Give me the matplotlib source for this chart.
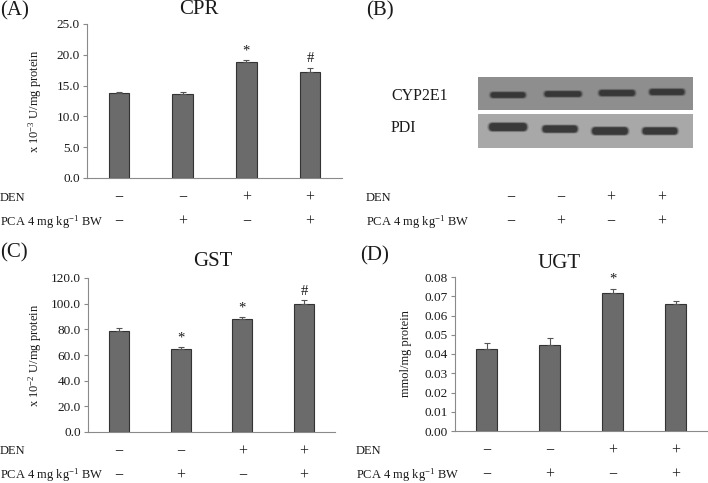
import matplotlib
matplotlib.use("Agg")
import matplotlib.pyplot as plt
from matplotlib.patches import Rectangle, FancyBboxPatch
import numpy as np

plt.rcParams['font.family'] = ['Liberation Serif', 'DejaVu Serif']
plt.rcParams['mathtext.fontset'] = 'custom'
plt.rcParams['mathtext.rm'] = 'Liberation Serif'
plt.rcParams['mathtext.default'] = 'regular'

W, H = 708, 483

# treatment rows (same for every panel)
den_signs = ['\u2212', '\u2212', '+', '+']
pca_signs = ['\u2212', '+', '\u2212', '+']
row_labels = ['DEN', 'PCA 4 mg kg$^{-1}$ BW']

# (A) CPR
cpr_mean = [13.8, 13.6, 18.8, 17.2]
cpr_err = [0.15, 0.4, 0.3, 0.7]
cpr_marks = ['', '', '*', '#']
cpr_ticks = [0.0, 5.0, 10.0, 15.0, 20.0, 25.0]

# (C) GST
gst_mean = [78.5, 64.5, 88.0, 100.0]
gst_err = [2.5, 1.5, 1.5, 2.5]
gst_marks = ['', '*', '*', '#']
gst_ticks = [0.0, 20.0, 40.0, 60.0, 80.0, 100.0, 120.0]

# (D) UGT
ugt_mean = [0.0427, 0.0447, 0.0715, 0.0658]
ugt_err = [0.003, 0.0035, 0.0025, 0.0015]
ugt_marks = ['', '', '*', '']
ugt_ticks = [0.00, 0.01, 0.02, 0.03, 0.04, 0.05, 0.06, 0.07, 0.08]

# (B) western blot rows
blot_lanes = ['CYP2E1', 'PDI']

BAR_FC = '#6b6b6b'
BAR_EC = '#333333'
AX_C = '#8a8a8a'
TXT_C = '#1a1a1a'
SIGN_FS = 11.5

fig = plt.figure(figsize=(W / 100, H / 100), dpi=100)


def px_axes(x0, y0, x1, y1):
    return fig.add_axes([x0 / W, 1 - y1 / H, (x1 - x0) / W, (y1 - y0) / H])


def bar_panel(box, mean, err, marks, ticks, fmt, ylabel, label_x):
    ax = px_axes(*box)
    x = np.arange(len(mean))
    ax.bar(x, mean, width=0.32, color=BAR_FC, edgecolor=BAR_EC, linewidth=0.8, zorder=2)
    ax.errorbar(x, mean, yerr=[np.zeros(len(err)), err], fmt='none',
                ecolor='#555555', elinewidth=0.8, capsize=2, capthick=0.8, zorder=3)
    for xi, m, e, s in zip(x, mean, err, marks):
        if s:
            ax.annotate(s, xy=(xi, m + e), xytext=(0, 2), textcoords='offset points',
                        ha='center', va='bottom', fontsize=10.5, color=TXT_C)
    ax.set_xlim(-0.5, len(mean) - 0.5)
    ax.set_ylim(ticks[0], ticks[-1])
    ax.set_yticks(ticks)
    ax.set_yticklabels([fmt.format(t) for t in ticks])
    ax.set_xticks([])
    for side in ['top', 'right']:
        ax.spines[side].set_visible(False)
    for side in ['left', 'bottom']:
        ax.spines[side].set_color(AX_C)
        ax.spines[side].set_linewidth(0.8)
    ax.tick_params(axis='y', direction='out', length=3, width=0.8, color=AX_C,
                   labelsize=9.5, labelcolor=TXT_C, pad=2)
    ax.set_ylabel(ylabel, fontsize=9, color=TXT_C)
    ax.yaxis.set_label_coords(label_x, 0.5)
    ax.patch.set_alpha(0)
    return ax


def sign_rows(ax, offsets=(-20, -44)):
    for signs, off in zip([den_signs, pca_signs], offsets):
        for i, s in enumerate(signs):
            ax.annotate(s, xy=(i, 0), xycoords=('data', 'axes fraction'),
                        xytext=(0, off * 0.72), textcoords='offset points',
                        ha='center', va='center', fontsize=SIGN_FS, color=TXT_C,
                        annotation_clip=False)


axA = bar_panel((87, 24, 342, 178), cpr_mean, cpr_err, cpr_marks, cpr_ticks, '{:.1f}',
                'x 10$^{-3}$ U/mg protein', -0.17)
axC = bar_panel((88, 278, 335, 432), gst_mean, gst_err, gst_marks, gst_ticks, '{:.1f}',
                'x 10$^{-2}$ U/mg protein', -0.18)
axD = bar_panel((455, 277, 707, 431), ugt_mean, ugt_err, ugt_marks, ugt_ticks, '{:.2f}',
                'mmol/mg protein', -0.17)
for ax in (axA, axC, axD):
    sign_rows(ax)

# overlay for free text, in pixel coordinates
ov = fig.add_axes([0, 0, 1, 1])
ov.set_xlim(0, W)
ov.set_ylim(H, 0)
ov.axis('off')
ov.patch.set_alpha(0)

for lab, x, y in [('(A)', 0, 11), ('(B)', 366, 11), ('(C)', 0, 253), ('(D)', 360, 256)]:
    ov.text(x, y, lab, fontsize=15, ha='left', va='center', color=TXT_C)
for t, x, y in [('CPR', 199, 9), ('GST', 213, 261), ('UGT', 559, 263)]:
    ov.text(x, y, t, fontsize=15, ha='center', va='center', color=TXT_C)

for x0, y0 in [(0, 198), (366, 198), (0, 451), (356, 451)]:
    ov.text(x0, y0, row_labels[0], fontsize=9, ha='left', va='center', color=TXT_C)
    ov.text(x0, y0 + 24, row_labels[1], fontsize=9, ha='left', va='center', color=TXT_C)

# (B) blot signs
for i, xc in enumerate([511, 561, 611, 662]):
    ov.text(xc, 198, den_signs[i], fontsize=SIGN_FS, ha='center', va='center', color=TXT_C)
    ov.text(xc, 222, pca_signs[i], fontsize=SIGN_FS, ha='center', va='center', color=TXT_C)

# (B) blot image drawn as patches
ov.text(391, 96, blot_lanes[0], fontsize=11.5, ha='left', va='center', color=TXT_C)
ov.text(391, 128, blot_lanes[1], fontsize=11.5, ha='left', va='center', color=TXT_C)
ov.add_patch(Rectangle((478, 77), 215, 33, facecolor='#8e8e8e', edgecolor='none'))
ov.add_patch(Rectangle((478, 114), 215, 34, facecolor='#a8a8a8', edgecolor='none'))

cyp_bands = [(508, 95, 34, 5), (563, 94, 36, 5), (617, 93, 35, 5.5), (667, 92, 34, 5.5)]
pdi_bands = [(508, 127, 37, 7.5), (560, 129, 34, 6.5), (610, 131, 35, 7), (660, 131, 34, 6.5)]
for xc, yc, bw, bh in cyp_bands + pdi_bands:
    for grow, a in [(2.5, 0.15), (1.8, 0.2), (1.1, 0.3), (0.5, 0.45), (0, 0.8)]:
        w = bw + grow * 2
        h = bh + grow * 1.2
        ov.add_patch(FancyBboxPatch((xc - w / 2, yc - h / 2), w, h,
                                    boxstyle='round,pad=0,rounding_size=%g' % (h / 2),
                                    facecolor='#333333', edgecolor='none', alpha=a))

fig.savefig('out.png', dpi=100)
